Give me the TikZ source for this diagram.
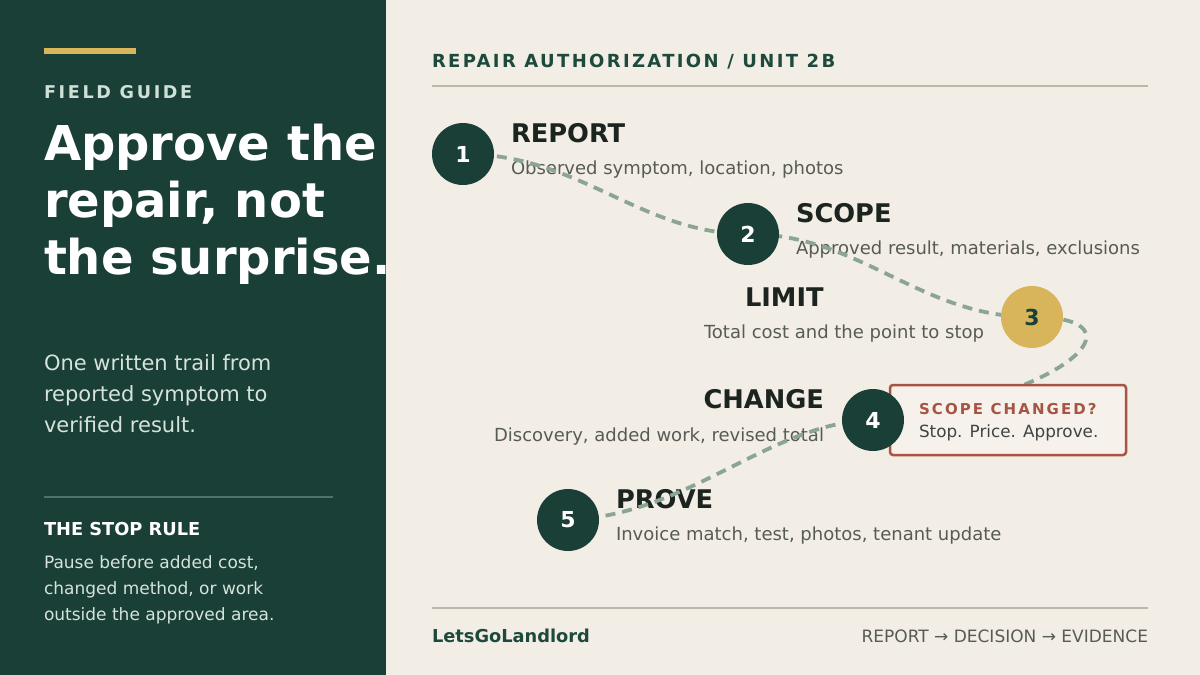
\documentclass[tikz,border=0pt]{standalone}
\usepackage{fontspec}
\setmainfont{DejaVu Sans}
\definecolor{panel}{HTML}{1A3F37}
\definecolor{paper}{HTML}{F2EDE5}
\definecolor{gold}{HTML}{D8B45B}
\definecolor{ink}{HTML}{1C2420}
\definecolor{subgray}{HTML}{575B56}
\definecolor{headgreen}{HTML}{1E4A3E}
\definecolor{rulegray}{HTML}{BDB6A8}
\definecolor{alert}{HTML}{A65443}
\definecolor{paletext}{HTML}{D5E3DB}
\definecolor{fieldtext}{HTML}{CFE1D6}
\definecolor{sepgreen}{HTML}{4A7567}
\definecolor{trail}{HTML}{8BA595}
\definecolor{boxfill}{HTML}{F6F1EA}
\tikzset{
  txt/.style={inner sep=0pt, outer sep=0pt, anchor=base west},
  txtr/.style={inner sep=0pt, outer sep=0pt, anchor=base east},
  stepnum/.style={circle, minimum size=62pt, inner sep=0pt, fill=panel, text=white,
     font=\fontsize{22}{22}\selectfont\bfseries},
  stepgold/.style={stepnum, fill=gold, text=panel},
  steptitle/.style={font=\fontsize{25.7}{26}\selectfont\bfseries, text=ink},
  stepsub/.style={font=\fontsize{18}{20}\selectfont, text=subgray},
  trailline/.style={draw=trail, line width=3.8pt, dash pattern=on 10pt off 7pt},
}
\begin{document}
\begin{tikzpicture}[x=1pt,y=-1pt]
\useasboundingbox (0,0) rectangle (1200,675);
\fill[paper] (0,0) rectangle (1200,675);
\fill[panel] (0,0) rectangle (386,675);
% left panel
\fill[gold] (44,48) rectangle (136,54);
\node[txt, text=fieldtext, font=\fontsize{17.6}{18}\selectfont\bfseries\addfontfeature{LetterSpace=15}] (fg) at (44,98) {FIELD GUIDE};
\node[txt, text=white, font=\fontsize{48}{58}\selectfont\bfseries] (t1) at (44,160) {Approve the};
\node[txt, text=white, font=\fontsize{48}{58}\selectfont\bfseries] (t2) at (44,217) {repair, not};
\node[txt, text=white, font=\fontsize{48}{58}\selectfont\bfseries] (t3) at (44,274) {the surprise.};
\node[txt, text=paletext, font=\fontsize{21}{22}\selectfont] (b1) at (44,370) {One written trail from};
\node[txt, text=paletext, font=\fontsize{21}{22}\selectfont] (b2) at (44,401) {reported symptom to};
\node[txt, text=paletext, font=\fontsize{21}{22}\selectfont] (b3) at (44,432) {verified result.};
\draw[sepgreen, line width=1.2pt] (44,497) -- (333,497);
\node[txt, text=white, font=\fontsize{17.8}{18}\selectfont\bfseries] (sr) at (44,535) {THE STOP RULE};
\node[txt, text=paletext, font=\fontsize{17}{18}\selectfont] (r1) at (44,568) {Pause before added cost,};
\node[txt, text=paletext, font=\fontsize{17}{18}\selectfont] (r2) at (44,594) {changed method, or work};
\node[txt, text=paletext, font=\fontsize{17}{18}\selectfont] (r3) at (44,620) {outside the approved area.};
% right header
\node[txt, text=headgreen, font=\fontsize{18}{18}\selectfont\bfseries\addfontfeature{LetterSpace=13}] (hd) at (432,67) {REPAIR AUTHORIZATION / UNIT 2B};
\draw[rulegray, line width=1.5pt] (432,86) -- (1148,86);
% step labels
\node[txt, steptitle] (l1) at (511,142) {REPORT};
\node[txt, stepsub] (s1) at (511,174) {Observed symptom, location, photos};
\node[txt, steptitle] (l2) at (796,222) {SCOPE};
\node[txt, stepsub] (s2) at (796,254) {Approved result, materials, exclusions};
\node[txt, steptitle] (l3) at (745,306) {LIMIT};
\node[txt, stepsub] (s3) at (704,338) {Total cost and the point to stop};
\node[txtr, steptitle] (l4) at (824,408) {CHANGE};
\node[txtr, stepsub] (s4) at (824,441) {Discovery, added work, revised total};
\node[txt, steptitle] (l5) at (616,508) {PROVE};
\node[txt, stepsub] (s5) at (616,540) {Invoice match, test, photos, tenant update};
% circle anchors
\coordinate (p1) at (463,154);
\coordinate (p2) at (748,234);
\coordinate (p3) at (1032,317);
\coordinate (p4) at (873,420);
\coordinate (p5) at (568,520);
% trail
\draw[trailline] (p1) .. controls (580,154) and (640,234) .. (p2)
  .. controls (860,234) and (920,317) .. (p3)
  .. controls (1152,317) and (1062,400) .. (p4)
  .. controls (770,422) and (690,515) .. (p5);
% alert box
\draw[alert, line width=2.5pt, fill=boxfill, rounded corners=3pt] (890,385) rectangle (1126,455);
\node[txt, text=alert, font=\fontsize{15}{15}\selectfont\bfseries\addfontfeature{LetterSpace=14}] (bx1) at (919,414) {SCOPE CHANGED?};
\node[txt, text=ink!85, font=\fontsize{16.8}{17}\selectfont] (bx2) at (919,437) {Stop. Price. Approve.};
% circles
\node[stepnum] (c1) at (p1) {1};
\node[stepnum] (c2) at (p2) {2};
\node[stepgold] (c3) at (p3) {3};
\node[stepnum] (c4) at (p4) {4};
\node[stepnum] (c5) at (p5) {5};
% footer
\draw[rulegray, line width=1.5pt] (432,608) -- (1148,608);
\node[txt, text=headgreen, font=\fontsize{17.8}{18}\selectfont\bfseries] (ft1) at (432,642) {LetsGoLandlord};
\node[txtr, text=subgray, font=\fontsize{17}{17}\selectfont] (ft2) at (1148,642) {REPORT → DECISION → EVIDENCE};
\end{tikzpicture}
\end{document}
